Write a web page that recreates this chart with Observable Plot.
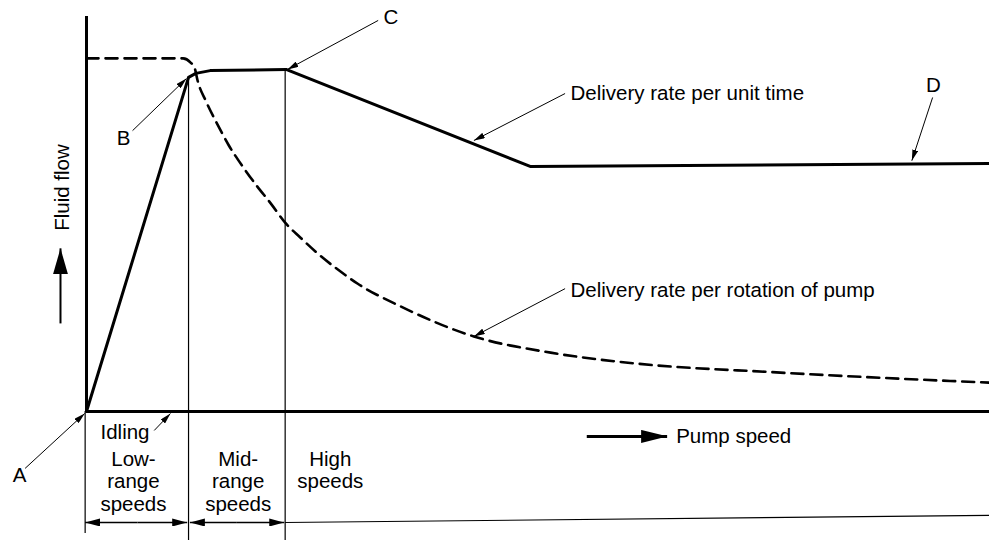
<!DOCTYPE html>
<html>
<head>
<meta charset="utf-8">
<script src="https://cdn.jsdelivr.net/npm/d3@7"></script>
<script src="https://cdn.jsdelivr.net/npm/@observablehq/plot@0.6"></script>
<style>
  html, body { margin: 0; padding: 0; background: #fff; }
  #chart svg { display: block; }
</style>
</head>
<body>
<div id="chart"></div>
<script>
// ---- Data (pump speed 0–100, fluid flow 0–100, arbitrary units) ----
const unitTimeSpeed = [0, 11.3, 12.1, 13.7, 22.1, 49.2, 100];
const unitTimeFlow  = [0, 84.6, 85.6, 86.3, 86.6, 62.0, 62.8];

const rotationSpeed = [0, 10.7, 11.5, 12.0, 12.3, 13.2, 14.5, 15.7, 17.3, 18.9, 20.4, 22.0, 23.7, 25.6, 27.8, 30.0, 34.8, 42.9, 51.4, 60.6, 76.4, 100];
const rotationFlow  = [89.4, 89.4, 88.4, 86.8, 83.8, 78.7, 72.7, 67.6, 62.0, 57.0, 52.7, 47.8, 44.0, 40.0, 36.0, 32.4, 26.6, 19.0, 14.9, 12.2, 9.9, 7.3];

// speed-range boundaries and labels
const rangeEdges  = [0, 11.3, 22.0];
const rangeLabels = ["Low-\nrange\nspeeds", "Mid-\nrange\nspeeds", "High\nspeeds"];
const rangeLabelSpeed = [5.2, 16.8, 27.0];

// callouts: label, label position, arrow start, arrow tip
const calloutLabels = ["A", "B", "C", "D", "Idling", "Delivery rate per unit time", "Delivery rate per rotation of pump"];
const calloutTextX  = [-7.4, 4.1, 33.7, 93.8, 1.55, 53.6, 53.6];
const calloutTextY  = [-16.2, 69.1, 99.7, 82.5, -5.3, 80.5, 30.6];
const calloutAnchor = ["middle", "middle", "middle", "middle", "start", "start", "start"];
const calloutFromX  = [-6.8, 5.1, 32.3, 93.7, 7.5, 53.0, 53.0];
const calloutFromY  = [-14.4, 71.1, 99.0, 79.5, -4.8, 80.5, 31.1];
const calloutToX    = [-0.2, 11.07, 22.26, 91.4, 9.3, 42.9, 42.9];
const calloutToY    = [-0.5, 84.3, 86.6, 63.5, -0.5, 68.6, 19.0];

// ---- helpers ----
const pts = (xs, ys) => xs.map((x, i) => ({x, y: ys[i]}));
const flowAt = (s) => {
  for (let i = 1; i < unitTimeSpeed.length; i++) {
    if (s <= unitTimeSpeed[i]) {
      const t = (s - unitTimeSpeed[i - 1]) / (unitTimeSpeed[i] - unitTimeSpeed[i - 1]);
      return unitTimeFlow[i - 1] + t * (unitTimeFlow[i] - unitTimeFlow[i - 1]);
    }
  }
  return unitTimeFlow[unitTimeFlow.length - 1];
};
function head(L, W) {
  return (color) => {
    const m = d3.create("svg:marker")
      .attr("viewBox", `${-L} ${-W / 2} ${L} ${W}`)
      .attr("markerWidth", L)
      .attr("markerHeight", W)
      .attr("markerUnits", "userSpaceOnUse")
      .attr("orient", "auto")
      .attr("fill", color)
      .attr("stroke", "none");
    m.append("path").attr("d", `M${-L},${-W / 2}L0,0L${-L},${W / 2}Z`);
    return m.node();
  };
}

const callouts = calloutLabels.map((label, i) => ({
  label, tx: calloutTextX[i], ty: calloutTextY[i], anchor: calloutAnchor[i],
  x1: calloutFromX[i], y1: calloutFromY[i], x2: calloutToX[i], y2: calloutToY[i]
}));

const dividers = rangeEdges.map((s, i) => ({
  x: i === 0 ? -0.15 : s,
  top: i === 0 ? 0 : flowAt(s),
  bottom: i === 0 ? -30.9 : -32.7
}));

const dimY = -28.1;
const dimArrows = [
  {x1: (rangeEdges[0] + rangeEdges[1]) / 2, x2: -0.15},
  {x1: (rangeEdges[0] + rangeEdges[1]) / 2, x2: rangeEdges[1] - 0.15},
  {x1: (rangeEdges[1] + rangeEdges[2]) / 2, x2: rangeEdges[1] + 0.15},
  {x1: (rangeEdges[1] + rangeEdges[2]) / 2, x2: rangeEdges[2] - 0.1}
];

const ranges = rangeLabels.map((label, i) => ({label, x: rangeLabelSpeed[i]}));
const FS = 20.5;

const chart = Plot.plot({
  width: 989,
  height: 540,
  marginLeft: 86,
  marginRight: 0,
  marginTop: 16,
  marginBottom: 129,
  x: {domain: [0, 100], axis: null},
  y: {domain: [0, 100], axis: null},
  style: {
    fontFamily: "'Liberation Sans', Arial, Helvetica, sans-serif",
    fontSize: "20px",
    color: "black",
    background: "white",
    overflow: "visible"
  },
  marks: [
    // thin divider lines between speed ranges
    Plot.ruleX(dividers, {x: "x", y1: "top", y2: "bottom", stroke: "black", strokeWidth: 1.2}),
    // dimension line on the right of high speeds
    Plot.link([{x1: rangeEdges[2], y1: dimY, x2: 100, y2: -26.3}], {x1: "x1", y1: "y1", x2: "x2", y2: "y2", stroke: "black", strokeWidth: 1.2}),
    Plot.link(dimArrows, {x1: "x1", y1: () => dimY, x2: "x2", y2: () => dimY, stroke: "black", strokeWidth: 1.5, markerEnd: head(15, 8)}),
    // axes
    Plot.ruleX([0], {y1: 0, y2: 100, stroke: "black", strokeWidth: 3}),
    Plot.ruleY([0], {x1: 0, x2: 100, stroke: "black", strokeWidth: 3}),
    // delivery rate per rotation (dashed)
    Plot.line(pts(rotationSpeed, rotationFlow), {x: "x", y: "y", stroke: "black", strokeWidth: 2.6, strokeDasharray: "12,7", curve: "monotone-x"}),
    // delivery rate per unit time (solid)
    Plot.line(pts(unitTimeSpeed, unitTimeFlow), {x: "x", y: "y", stroke: "black", strokeWidth: 3, strokeLinejoin: "round"}),
    // callout arrows
    Plot.link(callouts, {x1: "x1", y1: "y1", x2: "x2", y2: "y2", stroke: "black", strokeWidth: 1, markerEnd: head(11, 6)}),
    Plot.text(callouts, {filter: (d) => d.anchor === "middle", x: "tx", y: "ty", text: "label", textAnchor: "middle", fill: "black", fontSize: FS}),
    Plot.text(callouts, {filter: (d) => d.anchor === "start", x: "tx", y: "ty", text: "label", textAnchor: "start", fill: "black", fontSize: FS}),
    // axis direction arrows
    Plot.link([{x1: 55.4, x2: 64.3, y: -6.3}], {x1: "x1", x2: "x2", y1: "y", y2: "y", stroke: "black", strokeWidth: 3, markerEnd: head(26, 13)}),
    Plot.text(["Pump speed"], {x: 65.3, y: -6.3, textAnchor: "start", fill: "black", fontSize: FS}),
    Plot.link([{x: -2.88, y1: 22.3, y2: 41.3}], {x1: "x", x2: "x", y1: "y1", y2: "y2", stroke: "black", strokeWidth: 2, markerEnd: head(26, 15)}),
    Plot.text(["Fluid flow"], {x: -2.66, y: 56.7, rotate: -90, fill: "black", fontSize: FS}),
    // speed range labels
    Plot.text(ranges, {x: "x", y: -9.9, text: "label", lineAnchor: "top", lineHeight: 1.08, fill: "black", fontSize: FS})
  ]
});
document.getElementById("chart").appendChild(chart);
</script>
</body>
</html>
